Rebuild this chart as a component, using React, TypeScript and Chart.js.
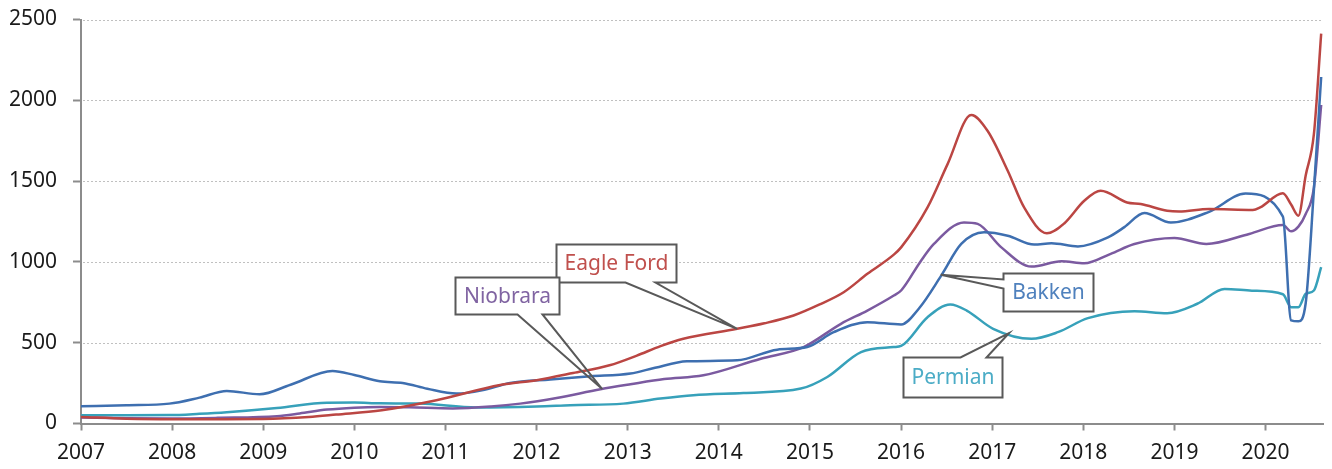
import React, { useEffect, useRef } from "react";
import { Chart, registerables } from "chart.js";

Chart.register(...registerables);

const yearTicks = [2007, 2008, 2009, 2010, 2011, 2012, 2013, 2014, 2015, 2016, 2017, 2018, 2019, 2020];
const valueTicks = [0, 500, 1000, 1500, 2000, 2500];

const eagleFordDates = [2007.0, 2007.5, 2008.0, 2008.5, 2009.0, 2009.5, 2009.8, 2010.3, 2010.9, 2011.6, 2012.0, 2012.4, 2012.8, 2013.1, 2013.36, 2013.61, 2014.2, 2014.5, 2014.82, 2015.1, 2015.37, 2015.63, 2015.92, 2016.0, 2016.29, 2016.51, 2016.77, 2016.95, 2017.17, 2017.35, 2017.6, 2017.79, 2018.01, 2018.19, 2018.48, 2018.63, 2018.92, 2019.05, 2019.38, 2019.86, 2019.94, 2020.19, 2020.28, 2020.36, 2020.44, 2020.53, 2020.61];
const eagleFordValues = [40, 30, 27, 27, 28, 40, 55, 82, 144, 238, 268, 312, 360, 420, 479, 524, 586, 620, 668, 735, 812, 926, 1045, 1090, 1337, 1605, 1909, 1810, 1564, 1337, 1177, 1238, 1378, 1440, 1368, 1358, 1317, 1312, 1327, 1321, 1337, 1425, 1355, 1286, 1535, 1790, 2413];

const bakkenDates = [2007.0, 2007.5, 2007.97, 2008.3, 2008.6, 2008.96, 2009.3, 2009.76, 2010.0, 2010.28, 2010.53, 2010.8, 2011.12, 2011.4, 2011.71, 2012.15, 2012.59, 2013.03, 2013.3, 2013.65, 2014.2, 2014.64, 2014.97, 2015.26, 2015.63, 2016.0, 2016.2, 2016.44, 2016.66, 2016.91, 2017.17, 2017.46, 2017.65, 2017.94, 2018.27, 2018.45, 2018.67, 2018.96, 2019.38, 2019.78, 2020.19, 2020.28, 2020.36, 2020.44, 2020.53, 2020.61];
const bakkenValues = [107, 113, 123, 160, 201, 181, 240, 325, 300, 261, 251, 215, 185, 205, 251, 273, 292, 309, 345, 385, 391, 457, 473, 565, 627, 613, 715, 915, 1111, 1183, 1162, 1107, 1115, 1096, 1152, 1215, 1302, 1244, 1310, 1423, 1280, 638, 632, 744, 1444, 2144];

const niobraraDates = [2007.0, 2007.5, 2008.0, 2008.5, 2009.15, 2009.4, 2009.7, 2010.0, 2010.28, 2010.6, 2011.08, 2011.5, 2011.82, 2012.22, 2012.7, 2013.03, 2013.4, 2013.83, 2014.46, 2014.93, 2015.34, 2015.63, 2015.92, 2016.0, 2016.21, 2016.36, 2016.69, 2016.84, 2017.1, 2017.43, 2017.76, 2018.01, 2018.3, 2018.56, 2019.0, 2019.35, 2019.82, 2020.19, 2020.28, 2020.36, 2020.44, 2020.53, 2020.61];
const niobraraValues = [37, 33, 31, 35, 45, 62, 86, 98, 102, 100, 93, 105, 123, 158, 212, 243, 275, 298, 401, 473, 617, 699, 792, 823, 1000, 1111, 1244, 1235, 1090, 971, 1004, 991, 1050, 1111, 1148, 1111, 1173, 1228, 1189, 1218, 1296, 1460, 1971];

const permianDates = [2007.0, 2007.5, 2007.97, 2008.3, 2008.6, 2009.15, 2009.7, 2010.0, 2010.28, 2010.72, 2011.34, 2012.0, 2012.37, 2012.95, 2013.36, 2013.72, 2014.27, 2014.9, 2015.19, 2015.56, 2015.92, 2016.0, 2016.29, 2016.54, 2016.72, 2017.01, 2017.43, 2017.72, 2018.05, 2018.56, 2018.92, 2019.25, 2019.55, 2019.85, 2020.19, 2020.28, 2020.36, 2020.44, 2020.53, 2020.61];
const permianValues = [51, 51, 52, 60, 70, 96, 129, 130, 125, 123, 99, 105, 113, 123, 154, 175, 189, 216, 288, 442, 473, 480, 658, 736, 699, 586, 524, 565, 652, 695, 683, 741, 833, 822, 800, 720, 720, 802, 823, 967];

const seriesNames = ["Eagle Ford", "Bakken", "Niobrara", "Permian"];

type Callout = {
  label: string;
  color: string;
  at: [number, number];
  w: number;
  h: number;
  tip: [number, number];
  side: "bottom" | "top" | "left";
  wedge: [number, number];
};

const callouts: Callout[] = [
  { label: "Eagle Ford", color: "#c0504d", at: [2012.873, 993], w: 120, h: 38, tip: [2014.2, 586], side: "bottom", wedge: [69, 99] },
  { label: "Niobrara", color: "#8064a2", at: [2011.676, 792], w: 104, h: 37, tip: [2012.72, 213], side: "bottom", wedge: [62, 87] },
  { label: "Bakken", color: "#4f81bd", at: [2017.615, 812], w: 90, h: 38, tip: [2016.435, 920], side: "left", wedge: [6, 15] },
  { label: "Permian", color: "#4bacc6", at: [2016.566, 288], w: 99, h: 40, tip: [2017.185, 560], side: "top", wedge: [57, 83] },
];

const gridPlugin = {
  id: "dottedGrid",
  beforeDatasetsDraw(chart: any) {
    const { ctx, chartArea } = chart;
    const ys = chart.scales.y;
    ctx.save();
    ctx.strokeStyle = "#c0c0c0";
    ctx.lineWidth = 1;
    ctx.setLineDash([2, 2]);
    for (const v of valueTicks) {
      if (v === 0) continue;
      const py = Math.round(ys.getPixelForValue(v)) + 0.5;
      ctx.beginPath();
      ctx.moveTo(chartArea.left + 2, py);
      ctx.lineTo(chartArea.right, py);
      ctx.stroke();
    }
    ctx.restore();
  },
};

const calloutPlugin = {
  id: "callouts",
  afterDatasetsDraw(chart: any) {
    const { ctx } = chart;
    const xs = chart.scales.x;
    const ys = chart.scales.y;
    ctx.save();
    for (const c of callouts) {
      const cx = xs.getPixelForValue(c.at[0]);
      const cy = ys.getPixelForValue(c.at[1]);
      const l = Math.round(cx - c.w / 2) + 0.5;
      const r = l + c.w;
      const t = Math.round(cy - c.h / 2) + 0.5;
      const b = t + c.h;
      const tx = xs.getPixelForValue(c.tip[0]);
      const ty = ys.getPixelForValue(c.tip[1]);
      ctx.fillStyle = "#ffffff";
      ctx.fillRect(l, t, c.w, c.h);
      ctx.beginPath();
      if (c.side === "bottom") {
        ctx.moveTo(l, t);
        ctx.lineTo(r, t);
        ctx.lineTo(r, b);
        ctx.lineTo(l + c.wedge[1], b);
        ctx.lineTo(tx, ty);
        ctx.lineTo(l + c.wedge[0], b);
        ctx.lineTo(l, b);
        ctx.closePath();
      } else if (c.side === "top") {
        ctx.moveTo(l, t);
        ctx.lineTo(l + c.wedge[0], t);
        ctx.lineTo(tx, ty);
        ctx.lineTo(l + c.wedge[1], t);
        ctx.lineTo(r, t);
        ctx.lineTo(r, b);
        ctx.lineTo(l, b);
        ctx.closePath();
      } else {
        ctx.moveTo(l, t);
        ctx.lineTo(r, t);
        ctx.lineTo(r, b);
        ctx.lineTo(l, b);
        ctx.lineTo(l, t + c.wedge[1]);
        ctx.lineTo(tx, ty);
        ctx.lineTo(l, t + c.wedge[0]);
        ctx.closePath();
      }
      ctx.lineWidth = 2;
      ctx.strokeStyle = "#595959";
      ctx.lineJoin = "miter";
      ctx.stroke();
      ctx.font = "21px 'Noto Sans', sans-serif";
      ctx.fillStyle = c.color;
      ctx.textAlign = "center";
      ctx.textBaseline = "middle";
      ctx.fillText(c.label, (l + r) / 2, (t + b) / 2 + 1);
    }
    ctx.restore();
  },
};

function toPoints(dates: number[], values: number[]) {
  return dates.map((d, i) => ({ x: d, y: values[i] }));
}

export default function App() {
  const ref = useRef<HTMLCanvasElement | null>(null);

  useEffect(() => {
    if (!ref.current) return;
    Chart.defaults.font.family = "'Noto Sans', sans-serif";
    const common = {
      pointRadius: 0,
      pointHoverRadius: 0,
      borderWidth: 2.5,
      fill: false,
      cubicInterpolationMode: "monotone" as const,
    };
    const chart = new Chart(ref.current, {
      type: "line",
      data: {
        datasets: [
          { ...common, label: seriesNames[0], data: toPoints(eagleFordDates, eagleFordValues), borderColor: "#bb4643" },
          { ...common, label: seriesNames[1], data: toPoints(bakkenDates, bakkenValues), borderColor: "#3e6fb0" },
          { ...common, label: seriesNames[2], data: toPoints(niobraraDates, niobraraValues), borderColor: "#7b5aa0" },
          { ...common, label: seriesNames[3], data: toPoints(permianDates, permianValues), borderColor: "#37a1ba" },
        ],
      },
      options: {
        animation: false,
        responsive: false,
        events: [],
        layout: { padding: { top: 19.5, right: 9, left: 0, bottom: 0 } },
        plugins: { legend: { display: false }, tooltip: { enabled: false } },
        scales: {
          x: {
            type: "linear",
            min: 2007,
            max: 2020.63,
            afterBuildTicks: (s: any) => {
              s.ticks = yearTicks.map((v) => ({ value: v }));
            },
            afterFit: (s: any) => {
              s.height = 45.5;
              s.paddingLeft = 0;
              s.paddingRight = 0;
            },
            ticks: {
              autoSkip: false,
              maxRotation: 0,
              padding: 10,
              color: "#1a1a1a",
              font: { size: 21 },
              callback: (v: any) => String(v),
            },
            grid: {
              display: true,
              drawOnChartArea: false,
              drawTicks: true,
              tickLength: 7,
              tickColor: "#8c8c8c",
              tickWidth: 2,
            },
            border: { display: true, color: "#8c8c8c", width: 2 },
          },
          y: {
            type: "linear",
            min: 0,
            max: 2500,
            afterBuildTicks: (s: any) => {
              s.ticks = valueTicks.map((v) => ({ value: v }));
            },
            afterFit: (s: any) => {
              s.width = 81;
              s.paddingTop = 0;
              s.paddingBottom = 0;
            },
            ticks: {
              padding: 16,
              color: "#1a1a1a",
              font: { size: 21 },
              callback: (v: any) => String(v),
            },
            grid: {
              display: true,
              drawOnChartArea: false,
              drawTicks: true,
              tickLength: 8,
              tickColor: "#8c8c8c",
              tickWidth: 2,
            },
            border: { display: true, color: "#8c8c8c", width: 2 },
          },
        },
      },
      plugins: [gridPlugin, calloutPlugin],
    } as any);
    return () => chart.destroy();
  }, []);

  return (
    <div style={{ position: "fixed", left: 0, top: 0, width: 1332, height: 469, background: "#ffffff" }}>
      <canvas ref={ref} width={1332} height={469} style={{ display: "block" }} />
    </div>
  );
}
